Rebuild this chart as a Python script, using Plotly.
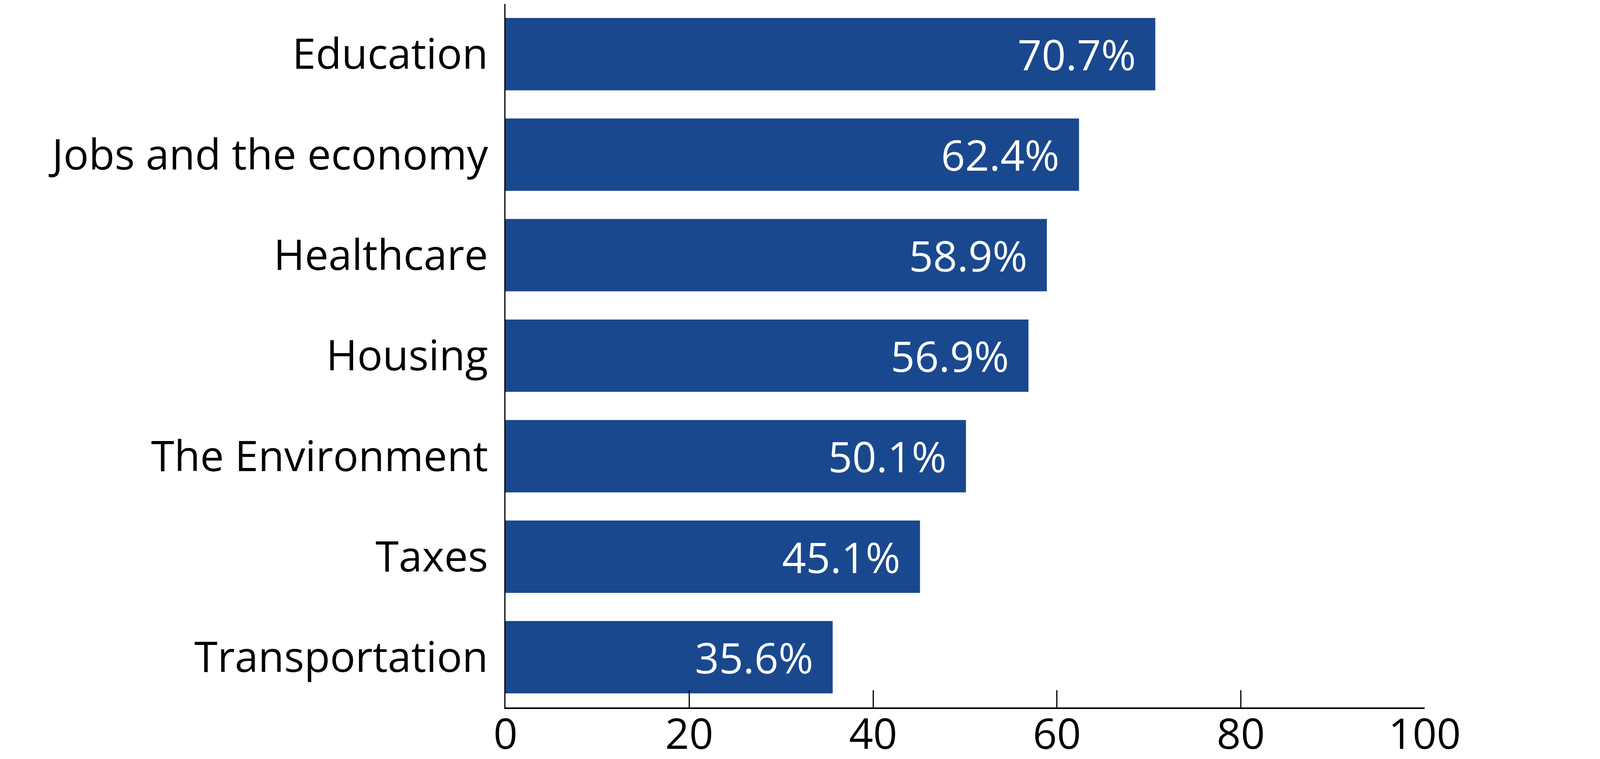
import plotly.graph_objects as go

# Data
categories = ["Education", "Jobs and the economy", "Healthcare", "Housing",
              "The Environment", "Taxes", "Transportation"]
values = [70.7, 62.4, 58.9, 56.9, 50.1, 45.1, 35.6]
tick_vals = [0, 20, 40, 60, 80, 100]

BAR_COLOR = "#1a488e"
FONT = "Open Sans"

fig = go.Figure()

fig.add_trace(go.Bar(
    x=values,
    y=categories,
    orientation="h",
    marker=dict(color=BAR_COLOR, line=dict(width=0)),
    hoverinfo="skip",
))

# value labels inside the bar ends
for cat, val in zip(categories, values):
    fig.add_annotation(
        x=val, y=cat,
        text=f"{val:.1f}%",
        showarrow=False,
        xanchor="right",
        xshift=-48,
        font=dict(family=FONT, size=108, color="white"),
    )

fig.update_layout(
    width=4555,
    height=1943,
    margin=dict(l=1286, r=916, t=2, b=140),
    plot_bgcolor="white",
    paper_bgcolor="white",
    bargap=0.28,
    showlegend=False,
    font=dict(family=FONT, color="black"),
)

fig.update_xaxes(
    range=[0, 100],
    tickvals=tick_vals,
    ticks="inside",
    ticklen=44,
    tickwidth=3,
    tickcolor="black",
    showline=True,
    linecolor="black",
    linewidth=4,
    showgrid=False,
    zeroline=False,
    tickfont=dict(family=FONT, size=108, color="black"),
    ticklabelstandoff=-28,
    automargin=False,
)

fig.update_yaxes(
    categoryorder="array",
    categoryarray=categories[::-1],
    showline=True,
    linecolor="black",
    linewidth=3,
    ticks="",
    showgrid=False,
    tickfont=dict(family=FONT, size=108, color="black"),
    ticklabelstandoff=20,
    automargin=False,
)

fig.write_html("out.html")
